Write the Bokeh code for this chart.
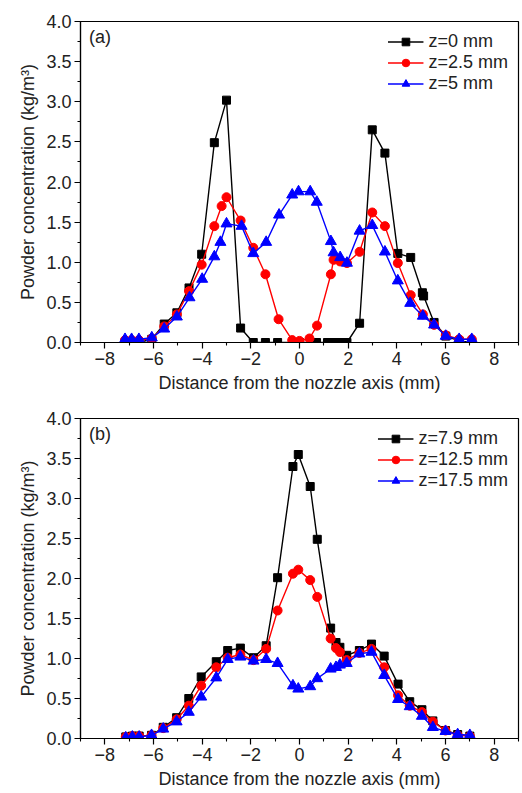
from bokeh.plotting import figure
from bokeh.models import FixedTicker, Legend, LegendItem, Label, Range1d
from bokeh.layouts import column
from bokeh.embed import file_html
from bokeh.resources import INLINE

FONT = "Liberation Sans"

# ---------------- data ----------------
x_major = [-8, -6, -4, -2, 0, 2, 4, 6, 8]
x_major_labels = ["\u22128", "\u22126", "\u22124", "\u22122", "0", "2", "4", "6", "8"]
x_minor = [-9, -7, -5, -3, -1, 1, 3, 5, 7, 9]
y_major = [0.0, 0.5, 1.0, 1.5, 2.0, 2.5, 3.0, 3.5, 4.0]
y_minor = [0.25, 0.75, 1.25, 1.75, 2.25, 2.75, 3.25, 3.75]

# panel (a)
a_labels = ["z=0 mm", "z=2.5 mm", "z=5 mm"]
a_x0 = [-7.17, -6.9, -6.6, -6.07, -5.56, -5.04, -4.54, -4.02, -3.5, -3.0, -2.42, -1.9, -1.4, -0.9,
        0.0, 0.7, 1.15, 1.42, 1.67, 1.95, 2.47, 2.99, 3.51, 4.04, 4.57, 5.05, 5.1, 5.53, 6.01, 6.56, 7.08]
a_y0 = [0.0, 0.0, 0.0, 0.04, 0.23, 0.37, 0.68, 1.1, 2.49, 3.02, 0.18, 0.0, 0.0, 0.0,
        0.0, 0.0, 0.0, 0.0, 0.0, 0.0, 0.24, 2.65, 2.36, 1.11, 1.06, 0.62, 0.58, 0.25, 0.08, 0.02, 0.0]
a_x1 = [-7.17, -6.9, -6.6, -6.07, -5.56, -5.04, -4.54, -4.02, -3.5, -3.2, -3.0, -2.42, -1.9, -1.4, -0.86,
        -0.3, 0.0, 0.41, 0.72, 1.29, 1.4, 1.67, 1.95, 2.47, 2.99, 3.51, 4.04, 4.57, 5.07, 5.53, 6.01, 6.56, 7.08]
a_y1 = [0.03, 0.03, 0.03, 0.05, 0.2, 0.35, 0.64, 0.97, 1.45, 1.7, 1.81, 1.52, 1.18, 0.85, 0.29,
        0.03, 0.02, 0.05, 0.21, 0.85, 1.03, 1.01, 0.99, 1.13, 1.62, 1.45, 0.99, 0.59, 0.35, 0.22, 0.09, 0.04, 0.04]
a_x2 = [-7.17, -6.9, -6.6, -6.07, -5.56, -5.04, -4.52, -4.0, -3.5, -3.25, -3.0, -2.38, -1.9, -1.37, -0.84,
        -0.3, -0.04, 0.44, 0.71, 1.29, 1.4, 1.67, 1.95, 2.47, 2.99, 3.51, 4.04, 4.55, 5.07, 5.53, 6.01, 6.56, 7.08]
a_y2 = [0.04, 0.04, 0.04, 0.06, 0.17, 0.32, 0.56, 0.79, 1.07, 1.25, 1.48, 1.45, 1.11, 1.25, 1.59,
        1.84, 1.88, 1.88, 1.75, 1.26, 1.12, 1.06, 0.99, 1.39, 1.46, 1.13, 0.77, 0.49, 0.33, 0.22, 0.08, 0.04, 0.04]

# panel (b)
b_labels = ["z=7.9 mm", "z=12.5 mm", "z=17.5 mm"]
b_x = [-7.14, -6.87, -6.59, -6.08, -5.6, -5.05, -4.55, -4.04, -3.42, -2.95, -2.43, -1.89, -1.37, -0.9,
       -0.27, -0.05, 0.44, 0.73, 1.28, 1.5, 1.66, 1.94, 2.46, 2.96, 3.48, 4.05, 4.53, 5.03, 5.48, 6.0, 6.5, 7.0]
b_y0 = [0.02, 0.03, 0.03, 0.04, 0.14, 0.26, 0.50, 0.77, 0.96, 1.10, 1.13, 1.01, 1.16, 2.01,
        3.40, 3.55, 3.15, 2.49, 1.38, 1.20, 1.14, 1.04, 1.10, 1.18, 1.03, 0.68, 0.46, 0.36, 0.22, 0.10, 0.05, 0.03]
b_y1 = [0.02, 0.03, 0.03, 0.04, 0.13, 0.24, 0.41, 0.66, 0.89, 1.01, 1.05, 0.98, 1.12, 1.60,
        2.06, 2.11, 1.98, 1.77, 1.25, 1.13, 1.08, 0.98, 1.07, 1.12, 0.89, 0.54, 0.41, 0.33, 0.21, 0.10, 0.04, 0.03]
b_y2 = [0.01, 0.02, 0.02, 0.04, 0.12, 0.21, 0.33, 0.52, 0.76, 0.99, 1.02, 0.97, 0.99, 0.94,
        0.66, 0.62, 0.65, 0.75, 0.87, 0.89, 0.92, 0.94, 1.06, 1.08, 0.79, 0.49, 0.40, 0.28, 0.14, 0.09, 0.05, 0.04]

colors = ["black", "#ff0000", "#0000ff"]
markers = ["square", "circle", "triangle"]
msizes = [8, 9, 11]


def make_panel(tag, series, labels, height, top_b, bottom_b):
    p = figure(width=520, height=height, output_backend="svg", toolbar_location=None,
               x_range=Range1d(-9, 9), y_range=Range1d(0, 4),
               min_border_left=80, min_border_right=2,
               min_border_top=top_b, min_border_bottom=bottom_b)
    p.grid.visible = False
    p.background_fill_color = "white"
    p.border_fill_color = "white"
    p.outline_line_color = "black"
    p.outline_line_width = 1.2
    p.outline_line_alpha = 1

    p.xaxis.ticker = FixedTicker(ticks=x_major, minor_ticks=x_minor)
    p.xaxis.major_label_overrides = {v: s for v, s in zip(x_major, x_major_labels)}
    p.yaxis.ticker = FixedTicker(ticks=y_major, minor_ticks=y_minor)
    p.yaxis.major_label_overrides = {v: "%.1f" % v for v in y_major}
    for ax in (p.xaxis, p.yaxis):
        ax.axis_line_width = 1.2
        ax.major_tick_in = 0
        ax.major_tick_out = 6
        ax.minor_tick_in = 0
        ax.minor_tick_out = 3
        ax.major_tick_line_width = 1.2
        ax.minor_tick_line_width = 1.1
        ax.major_label_text_font = FONT
        ax.major_label_text_font_size = "18px"
        ax.major_label_text_color = "#222222"
        ax.axis_label_text_font = FONT
        ax.axis_label_text_font_size = "18px"
        ax.axis_label_text_font_style = "normal"
        ax.axis_label_text_color = "#222222"
        ax.major_label_standoff = 3
        ax.axis_label_standoff = 5
    p.xaxis.axis_label = "Distance from the nozzle axis (mm)"
    p.yaxis.axis_label = "Powder concentration (kg/m\u00b3)"

    items = []
    for (xs, ys), c, m, s, lab in zip(series, colors, markers, msizes, labels):
        lr = p.line(xs, ys, line_color=c, line_width=1.4)
        sr = p.scatter(xs, ys, marker=m, size=s, fill_color=c, line_color=c)
        items.append(LegendItem(label=lab, renderers=[lr, sr]))

    leg = Legend(items=items, location="top_right",
                 background_fill_alpha=0, border_line_alpha=0,
                 label_text_font=FONT, label_text_font_size="18px",
                 label_text_color="#222222",
                 glyph_width=36, glyph_height=19, label_height=19,
                 spacing=0, padding=4, margin=6, label_standoff=5)
    p.add_layout(leg)

    p.add_layout(Label(x=-8.65, y=3.93, text=tag, text_font=FONT, text_font_size="18px",
                       text_color="#222222", text_baseline="top", text_align="left"))
    return p


p1 = make_panel("(a)", [(a_x0, a_y0), (a_x1, a_y1), (a_x2, a_y2)], a_labels, 396, 21, 54)
p2 = make_panel("(b)", [(b_x, b_y0), (b_x, b_y1), (b_x, b_y2)], b_labels, 395, 22, 50)

layout = column(p1, p2, spacing=0)
open("out.html", "w").write(file_html(layout, INLINE))
